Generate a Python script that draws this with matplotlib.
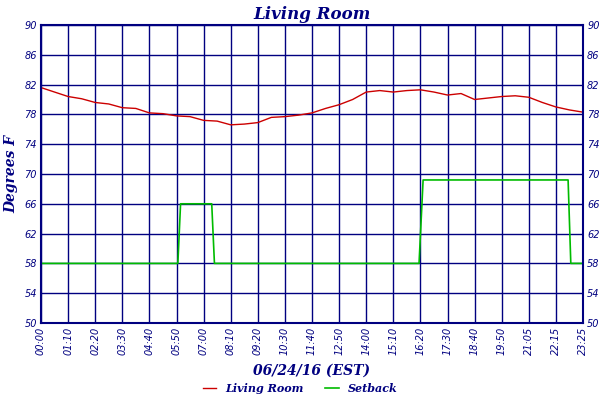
import matplotlib
matplotlib.use("Agg")
import matplotlib.pyplot as plt

tick_labels = ["00:00","01:10","02:20","03:30","04:40","05:50","07:00","08:10","09:20","10:30",
               "11:40","12:50","14:00","15:10","16:20","17:30","18:40","19:50","21:05","22:15","23:25"]
temp_x = [0,0.5,1,1.5,2,2.5,3,3.5,4,4.5,5,5.5,6,6.5,7,7.5,8,8.5,9,9.5,10,10.5,11,11.5,12,12.5,
          13,13.5,14,14.5,15,15.5,16,16.5,17,17.5,18,18.5,19,19.5,20]
temp_y = [81.6,81.0,80.4,80.1,79.6,79.4,78.9,78.8,78.2,78.1,77.8,77.7,77.2,77.1,76.6,76.7,76.9,77.6,
          77.7,77.9,78.2,78.8,79.3,80.0,81.0,81.2,81.0,81.2,81.3,81.0,80.6,80.8,80.0,80.2,80.4,80.5,
          80.3,79.6,79.0,78.6,78.3]
set_x = [0,5.05,5.15,6.3,6.4,13.95,14.1,19.45,19.55,20]
set_y = [58,58,66,66,58,58,69.2,69.2,58,58]

navy = "#000080"
fig = plt.figure(figsize=(6,4), dpi=100)
ax = fig.add_axes([41/600, 1-323/400, 542/600, 298/400])
ax.plot(temp_x, temp_y, color="#cc0000", lw=1, label="Living Room")
ax.plot(set_x, set_y, color="#00bb00", lw=1.2, label="Setback")
ax.set_xlim(0,20); ax.set_ylim(50,90)
yt = list(range(50,91,4))
ax.set_yticks(yt)
ax.set_xticks(range(21))
ax.set_xticklabels(tick_labels, rotation=90, fontsize=7, style="italic", color=navy)
ax.set_yticklabels([str(v) for v in yt], fontsize=7, style="italic", color=navy)
ax.tick_params(length=0, pad=3, right=True, labelright=True)
ax.grid(True, color=navy, lw=1)
for s in ax.spines.values():
    s.set_color(navy); s.set_linewidth(1.5)
ax.set_title("Living Room", fontsize=12, style="italic", fontweight="bold", color=navy, family="serif", pad=4)
ax.set_ylabel("Degrees F", fontsize=10, style="italic", fontweight="bold", color=navy, family="serif", labelpad=4)
ax.set_xlabel("06/24/16 (EST)", fontsize=10, style="italic", fontweight="bold", color=navy, family="serif", labelpad=6)
fig.legend(loc="lower center", ncol=2, frameon=False, bbox_to_anchor=(0.5,-0.01),
           prop={"family":"serif","style":"italic","weight":"bold","size":8}, labelcolor=navy,
           handlelength=1.2, columnspacing=2)
fig.savefig("out.png", dpi=100)
